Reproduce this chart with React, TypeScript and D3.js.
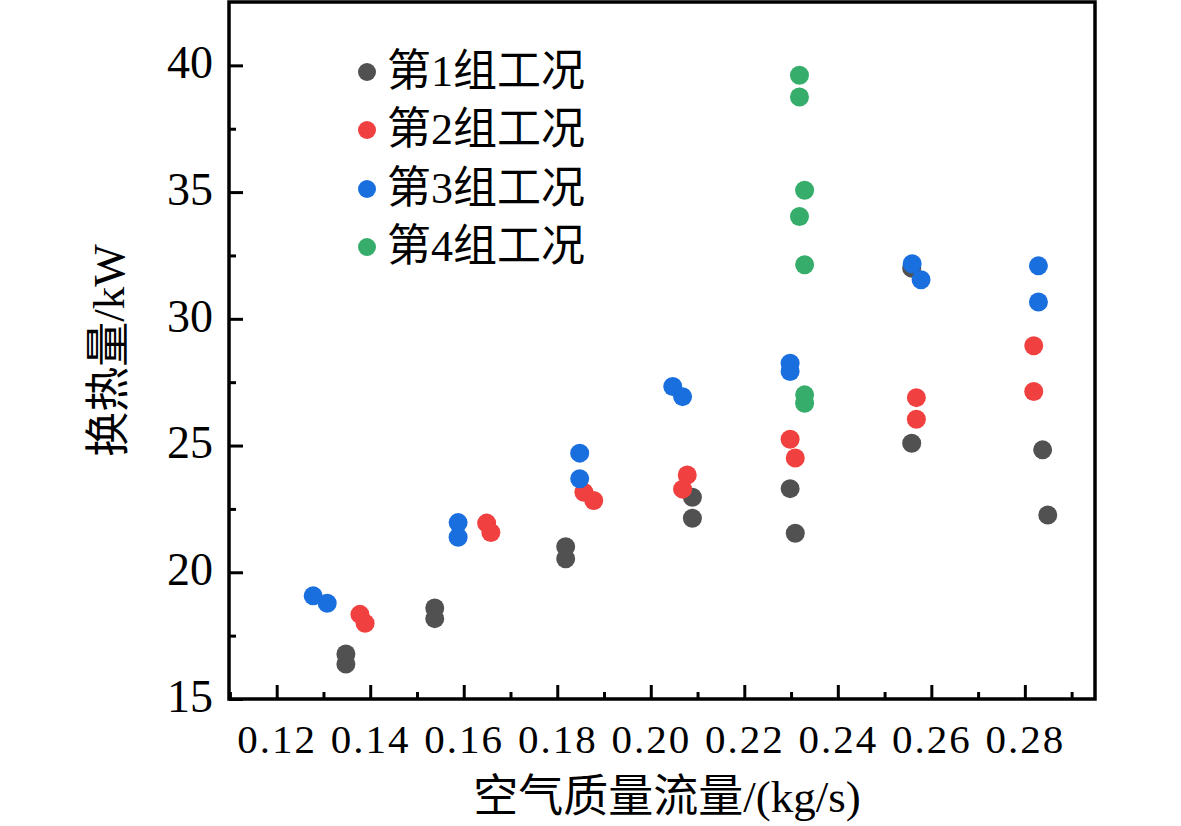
import { useEffect, useRef } from "react";
import * as d3 from "d3";

const COLORS = ["#515151", "#F14040", "#1A6FDF", "#37AD6B"];
const LABELS = ["第1组工况", "第2组工况", "第3组工况", "第4组工况"];

const g1X = [0.1348, 0.1348, 0.1538, 0.1538, 0.1818, 0.1818, 0.2089, 0.2089, 0.2298, 0.2309, 0.2558, 0.2558, 0.2838, 0.2849];
const g1Y = [16.78, 16.38, 18.59, 18.17, 21.01, 20.53, 22.96, 22.13, 23.3, 21.54, 32.0, 25.09, 24.83, 22.26];

const g2X = [0.1378, 0.1389, 0.1649, 0.1658, 0.1857, 0.1878, 0.2078, 0.2068, 0.2298, 0.2309, 0.2568, 0.2568, 0.2819, 0.2819];
const g2Y = [18.34, 17.99, 21.94, 21.57, 23.16, 22.83, 23.84, 23.28, 25.25, 24.51, 26.89, 26.04, 28.94, 27.13];

const g3X = [0.1278, 0.1308, 0.1588, 0.1588, 0.1848, 0.1848, 0.2047, 0.2068, 0.2298, 0.2298, 0.2559, 0.2578, 0.2829, 0.2829];
const g3Y = [19.07, 18.78, 21.96, 21.38, 24.7, 23.69, 27.33, 26.93, 28.25, 27.92, 32.17, 31.54, 32.09, 30.66];

const g4X = [0.2318, 0.2318, 0.2329, 0.2318, 0.2329, 0.2329, 0.2329];
const g4Y = [39.61, 38.75, 35.07, 34.04, 32.13, 27.0, 26.67];

const X_TICKS = [0.12, 0.14, 0.16, 0.18, 0.2, 0.22, 0.24, 0.26, 0.28];
const X_MINOR = [0.11, 0.13, 0.15, 0.17, 0.19, 0.21, 0.23, 0.25, 0.27, 0.29];
const Y_TICKS = [15, 20, 25, 30, 35, 40];
const Y_MINOR = [17.5, 22.5, 27.5, 32.5, 37.5];

const FONT = "'Liberation Serif', 'Times New Roman', 'Noto Sans CJK SC', serif";

export default function App() {
  const ref = useRef<SVGSVGElement>(null);

  useEffect(() => {
    if (!ref.current) return;
    const W = 1181, H = 826;
    const L = 229, R = 1095, T = 2, B = 699;

    const svg = d3.select(ref.current).attr("width", W).attr("height", H);
    svg.selectAll("*").remove();
    svg.append("rect").attr("width", W).attr("height", H).attr("fill", "#fff");

    const x = d3.scaleLinear().domain([0.1098, 0.295]).range([L, R]);
    const y = d3.scaleLinear().domain([15, 42.5]).range([B, T]);

    const groups = [
      g1X.map((v, i) => [v, g1Y[i]]),
      g2X.map((v, i) => [v, g2Y[i]]),
      g3X.map((v, i) => [v, g3Y[i]]),
      g4X.map((v, i) => [v, g4Y[i]]),
    ];

    // points
    groups.forEach((pts, gi) => {
      svg.append("g").selectAll("circle")
        .data(pts)
        .enter().append("circle")
        .attr("cx", d => x(d[0]))
        .attr("cy", d => y(d[1]))
        .attr("r", 9.5)
        .attr("fill", COLORS[gi]);
    });

    // bottom axis, ticks inward
    svg.append("g").attr("transform", `translate(0,${B})`)
      .call(d3.axisBottom(x).tickValues(X_TICKS).tickSize(-14).tickPadding(54)
        .tickFormat(v => d3.format(".2f")(v as number)))
      .call(a => a.select(".domain").remove())
      .call(a => a.selectAll("line").attr("stroke", "#000").attr("stroke-width", 3))
      .call(a => a.selectAll("text").attr("font-family", FONT).attr("font-size", 41)
        .attr("letter-spacing", 2).attr("fill", "#000").attr("dy", "0"));
    svg.append("g").attr("transform", `translate(0,${B})`)
      .call(d3.axisBottom(x).tickValues(X_MINOR).tickSize(-7).tickFormat(() => ""))
      .call(a => a.select(".domain").remove())
      .call(a => a.selectAll("line").attr("stroke", "#000").attr("stroke-width", 3));

    // left axis, ticks inward
    svg.append("g").attr("transform", `translate(${L},0)`)
      .call(d3.axisLeft(y).tickValues(Y_TICKS).tickSize(-14).tickPadding(16))
      .call(a => a.select(".domain").remove())
      .call(a => a.selectAll("line").attr("stroke", "#000").attr("stroke-width", 3))
      .call(a => a.selectAll("text").attr("font-family", FONT).attr("font-size", 46).attr("fill", "#000").attr("dy", "0.27em"));
    svg.append("g").attr("transform", `translate(${L},0)`)
      .call(d3.axisLeft(y).tickValues(Y_MINOR).tickSize(-7).tickFormat(() => ""))
      .call(a => a.select(".domain").remove())
      .call(a => a.selectAll("line").attr("stroke", "#000").attr("stroke-width", 3));

    // frame
    svg.append("rect")
      .attr("x", L).attr("y", T).attr("width", R - L).attr("height", B - T)
      .attr("fill", "none").attr("stroke", "#000").attr("stroke-width", 3.5);

    // axis titles
    svg.append("text")
      .attr("x", 667).attr("y", 812)
      .attr("text-anchor", "middle")
      .attr("font-family", FONT).attr("font-size", 45)
      .text("空气质量流量/(kg/s)");
    svg.append("text")
      .attr("transform", `translate(124,${(T + B) / 2}) rotate(-90)`)
      .attr("text-anchor", "middle")
      .attr("font-family", FONT).attr("font-size", 45)
      .text("换热量/kW");

    // legend
    const legY = [72, 130, 189, 247];
    LABELS.forEach((lab, i) => {
      svg.append("circle").attr("cx", 367).attr("cy", legY[i]).attr("r", 9).attr("fill", COLORS[i]);
      svg.append("text")
        .attr("x", 387).attr("y", legY[i] + 14)
        .attr("font-family", FONT).attr("font-size", 44)
        .text(lab);
    });
  }, []);

  return (
    <div style={{ position: "absolute", left: 0, top: 0 }}>
      <svg ref={ref} style={{ display: "block" }} />
    </div>
  );
}
